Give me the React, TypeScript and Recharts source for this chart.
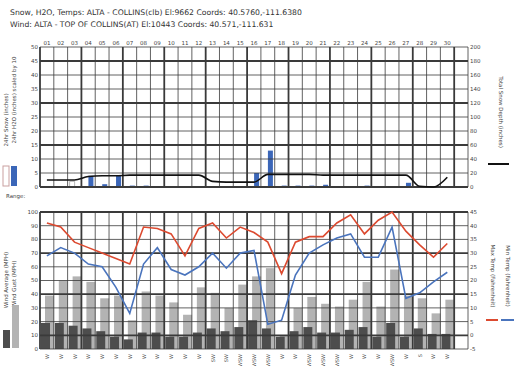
import { ComposedChart, Bar, Line, XAxis, YAxis, ReferenceLine } from 'recharts';

const DAYS = ['01', '02', '03', '04', '05', '06', '07', '08', '09', '10', '11', '12', '13', '14', '15',
  '16', '17', '18', '19', '20', '21', '22', '23', '24', '25', '26', '27', '28', '29', '30'];

// upper panel: 24hr snow / water (left axis), total snow depth (right axis)
const SNOW_24H = [0, 0, 2, 0, 0, 0, 0, 0, 0, 0, 0, 0, 0, 0, 0, 0, 0, 0, 0, 0, 0, 0, 0, 0, 0, 0, 0, 0, 0, 0];
const H2O_24H = [0, 0, 0, 4, 1, 4, 0.5, 0.5, 0, 0, 0, 0, 0, 0, 0, 5, 13, 0.5, 0.5, 0.5, 0.8, 0.3, 0, 0.5, 0, 0, 1.5, 0, 0, 0];
const SNOW_DEPTH = [10, 10, 10, 15, 16, 16, 17, 17, 17, 17, 17, 17, 8, 7, 7, 7, 18, 18, 18, 18, 17, 17, 17, 17, 17, 17, 17, 1, 0, 14];

// lower panel: wind (left axis, mph), temperatures (right axis, F)
const WIND_GUST = [39, 50, 53, 49, 37, 39, 21, 42, 39, 34, 25, 45, 41, 30, 47, 53, 59, 10, 30, 38, 33, 31, 36, 49, 31, 58, 39, 37, 26, 36];
const WIND_AVG = [19, 19, 17, 15, 13, 9, 7, 12, 12, 9, 9, 12, 15, 13, 16, 21, 15, 9, 13, 16, 12, 12, 14, 16, 9, 19, 9, 15, 11, 11];
const TEMP_MAX = [41, 39.5, 34, 32, 30, 28, 26, 39.5, 39, 37, 29, 39, 41, 35.5, 39.5, 37.5, 34, 22.5, 34, 36, 36, 41, 44, 37, 42, 45, 38, 33, 28.5, 33.5];
const TEMP_MIN = [29, 32, 30, 26, 25, 17.5, 8, 26, 32, 24, 22, 25, 30, 24.5, 30, 31, 4, 5.5, 22, 30, 33, 35.5, 37, 28.5, 28.5, 39.5, 13.5, 15.5, 19.5, 23];
const WIND_DIR = ['W', 'W', 'W', 'W', 'W', 'W', 'W', 'W', 'W', 'W', 'W', 'W', 'SW', 'SW', 'WSW', 'WSW',
  'WSW', 'W', 'W', 'WSW', 'WSW', 'WSW', 'W', 'W', 'W', 'WSW', 'W', 'S', 'W', 'W'];

const SNOW_TICKS = [0, 5, 10, 15, 20, 25, 30, 35, 40, 45, 50];
const DEPTH_TICKS = [0, 20, 40, 60, 80, 100, 120, 140, 160, 180, 200];
const WIND_TICKS = [0, 10, 20, 30, 40, 50, 60, 70, 80, 90, 100];
const TEMP_TICKS = [-5, 0, 5, 10, 15, 20, 25, 30, 35, 40, 45];

const data = DAYS.map((day, i) => ({
  x: i + 0.5,
  day,
  snow: SNOW_24H[i],
  h2o: H2O_24H[i],
  depth: SNOW_DEPTH[i],
  gust: WIND_GUST[i],
  avg: WIND_AVG[i],
  tmax: TEMP_MAX[i],
  tmin: TEMP_MIN[i],
}));

const COLS = Array.from({ length: 32 }, (_, i) => i);
const CENTERS = data.map((d) => d.x);

const FONT = '"DejaVu Sans", Verdana, sans-serif';
const tickStyle = { fontSize: 5.5, fill: '#444', fontFamily: FONT };
const GRID = '#3a3a3a';

const shifted = (dx: number) => (props: any) => {
  const { x, y, width, height, fill } = props;
  if (!height || height <= 0) return null;
  return <rect x={x + dx} y={y} width={width} height={height} fill={fill} />;
};

const DirTick = (props: any) => {
  const { x, y, payload } = props;
  const label = WIND_DIR[Math.floor(payload.value)] ?? '';
  return (
    <text x={x} y={y + 3} transform={`rotate(-90 ${x} ${y + 3})`} textAnchor="end" dy={2}
      fontSize={5} fill="#555" fontFamily={FONT}>{label}</text>
  );
};

function gridLines(yAxisId: string, hTicks: number[], thick: (v: number) => boolean) {
  return [
    ...COLS.map((c) => (
      <ReferenceLine key={`v${c}`} x={c} xAxisId="g" yAxisId={yAxisId} stroke={GRID}
        strokeWidth={c % 3 === 0 ? 1.8 : 0.8} />
    )),
    ...hTicks.map((t) => (
      <ReferenceLine key={`h${t}`} y={t} xAxisId="g" yAxisId={yAxisId} stroke={GRID}
        strokeWidth={thick(t) ? 1.8 : 0.8} />
    )),
  ];
}

export default function App() {
  return (
    <div style={{ position: 'absolute', left: 0, top: 0, width: 516, height: 366, background: '#fff', fontFamily: FONT }}>
      {/* snow panel */}
      <div style={{ position: 'absolute', left: 0, top: 0 }}>
        <ComposedChart width={516} height={195} data={data} barGap={0}
          margin={{ top: 37, right: 28, bottom: 8, left: 26 }}>
          <XAxis xAxisId="g" dataKey="x" type="number" domain={[0, 31]} ticks={COLS} height={0}
            tick={false} axisLine={false} tickLine={false} />
          <XAxis xAxisId="top" orientation="top" dataKey="x" type="number" domain={[0, 31]} ticks={CENTERS}
            height={10} tickSize={0} tickMargin={2} axisLine={false} tickLine={false}
            tickFormatter={(v: number) => DAYS[Math.floor(v)] ?? ''} tick={tickStyle} interval={0} />
          <YAxis yAxisId="l" domain={[0, 50]} ticks={SNOW_TICKS} width={14} tickSize={0} tickMargin={2}
            axisLine={false} tickLine={false} tick={tickStyle} interval={0} />
          <YAxis yAxisId="r" orientation="right" domain={[0, 200]} ticks={DEPTH_TICKS} width={20} tickSize={0}
            tickMargin={2} axisLine={false} tickLine={false} tick={tickStyle} interval={0} />
          {gridLines('l', SNOW_TICKS, (v) => v % 15 === 0)}
          <Bar xAxisId="g" yAxisId="l" dataKey="snow" barSize={5} fill="#ffffff" stroke="#8a8a8a"
            strokeWidth={0.6} isAnimationActive={false} />
          <Bar xAxisId="g" yAxisId="l" dataKey="h2o" barSize={5} fill="#3b66b8" isAnimationActive={false} />
          <Line xAxisId="g" yAxisId="r" dataKey="depth" type="monotone" stroke="#111" strokeWidth={1.6}
            dot={false} isAnimationActive={false} />
        </ComposedChart>
      </div>

      {/* wind / temperature panel */}
      <div style={{ position: 'absolute', left: 0, top: 200 }}>
        <ComposedChart width={516} height={166} data={data} barGap={-9}
          margin={{ top: 12, right: 28, bottom: 0, left: 26 }}>
          <XAxis xAxisId="g" dataKey="x" type="number" domain={[0, 31]} ticks={COLS} height={0}
            tick={false} axisLine={false} tickLine={false} />
          <XAxis xAxisId="dir" dataKey="x" type="number" domain={[0, 31]} ticks={CENTERS} height={17}
            tickSize={0} axisLine={false} tickLine={false} tick={<DirTick />} interval={0} />
          <YAxis yAxisId="l" domain={[0, 100]} ticks={WIND_TICKS} width={14} tickSize={0} tickMargin={2}
            axisLine={false} tickLine={false} tick={tickStyle} interval={0} />
          <YAxis yAxisId="r" orientation="right" domain={[-5, 45]} ticks={TEMP_TICKS} width={20} tickSize={0}
            tickMargin={2} axisLine={false} tickLine={false} tick={tickStyle} interval={0} />
          <Bar xAxisId="g" yAxisId="l" dataKey="gust" barSize={9} fill="#b3b3b3" shape={shifted(3)}
            isAnimationActive={false} />
          <Bar xAxisId="g" yAxisId="l" dataKey="avg" barSize={9} fill="#4d4d4d" shape={shifted(-1)}
            isAnimationActive={false} />
          {gridLines('l', WIND_TICKS, (v) => (v - 10) % 30 === 0)}
          <Line xAxisId="g" yAxisId="r" dataKey="tmax" type="linear" stroke="#dc4a30" strokeWidth={1.6}
            dot={false} isAnimationActive={false} />
          <Line xAxisId="g" yAxisId="r" dataKey="tmin" type="linear" stroke="#4a74bd" strokeWidth={1.6}
            dot={false} isAnimationActive={false} />
        </ComposedChart>
      </div>

      {/* titles and legend keys */}
      <svg width={516} height={366} style={{ position: 'absolute', left: 0, top: 0, pointerEvents: 'none' }}
        fontFamily={FONT}>
        <text x={10} y={15} fontSize={7.7} fill="#333">
          Snow, H2O, Temps: ALTA - COLLINS(clb) El:9662 Coords: 40.5760,-111.6380
        </text>
        <text x={10} y={27} fontSize={7.7} fill="#333">
          Wind: ALTA - TOP OF COLLINS(AT) El:10443 Coords: 40.571,-111.631
        </text>

        <text transform="translate(8,120) rotate(-90)" textAnchor="middle" fontSize={5.5} fill="#444">24hr Snow (inches)</text>
        <text transform="translate(16,100) rotate(-90)" textAnchor="middle" fontSize={5.5} fill="#444">24hr H2O (inches) scaled by 10</text>
        <rect x={3} y={166} width={6} height={20} fill="#fff" stroke="#c9a0a0" strokeWidth={1} />
        <rect x={11} y={166} width={6} height={20} fill="#3b66b8" />
        <text x={6} y={198} fontSize={5.5} fill="#444">Range:</text>

        <text transform="translate(499,112) rotate(90)" textAnchor="middle" fontSize={5.5} fill="#444">Total Snow Depth (inches)</text>
        <line x1={488} x2={509} y1={164} y2={164} stroke="#111" strokeWidth={2} />

        <text transform="translate(8,280) rotate(-90)" textAnchor="middle" fontSize={5.5} fill="#444">Wind Average (MPH)</text>
        <text transform="translate(16,284) rotate(-90)" textAnchor="middle" fontSize={5.5} fill="#444">Wind Gust (MPH)</text>
        <rect x={3} y={330} width={7} height={18} fill="#4d4d4d" />
        <rect x={12} y={305} width={7} height={43} fill="#b3b3b3" />

        <text transform="translate(491,276) rotate(90)" textAnchor="middle" fontSize={5.5} fill="#444">Max Temp (Fahrenheit)</text>
        <text transform="translate(506,276) rotate(90)" textAnchor="middle" fontSize={5.5} fill="#444">Min Temp (Fahrenheit)</text>
        <line x1={486} x2={498} y1={320} y2={320} stroke="#dc4a30" strokeWidth={2} />
        <line x1={501} x2={514} y1={320} y2={320} stroke="#4a74bd" strokeWidth={2} />
      </svg>
    </div>
  );
}
